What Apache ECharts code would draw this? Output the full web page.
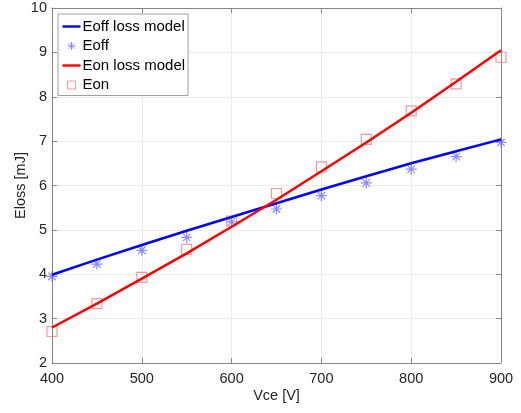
<!DOCTYPE html>
<html>
<head>
<meta charset="utf-8">
<script src="https://cdn.jsdelivr.net/npm/echarts@6/dist/echarts.min.js"></script>
<style>html,body{margin:0;padding:0;background:#fff}#c{width:521px;height:413px}</style>
</head>
<body>
<div id="c"></div>
<script>
const vce = [400, 450, 500, 550, 600, 650, 700, 750, 800, 850, 900];
const eoffModel = [3.99, 4.33, 4.66, 4.98, 5.29, 5.60, 5.91, 6.21, 6.50, 6.77, 7.04];
const eoffMeas = [3.95, 4.23, 4.54, 4.83, 5.18, 5.47, 5.77, 6.06, 6.37, 6.65, 6.97];
const eonModel = [2.80, 3.34, 3.90, 4.47, 5.07, 5.68, 6.32, 6.97, 7.64, 8.34, 9.05];
const eonMeas = [2.71, 3.34, 3.93, 4.56, 5.20, 5.82, 6.42, 7.04, 7.68, 8.29, 8.89];
const xTicks = [400, 500, 600, 700, 800, 900];
const yTicks = [2, 3, 4, 5, 6, 7, 8, 9, 10];
const legendNames = ['Eoff loss model', 'Eoff', 'Eon loss model', 'Eon'];

const pair = (xs, ys) => xs.map((x, i) => [x, ys[i]]);
const FONT = 'Liberation Sans';
const asterisk = 'path://M5,0 L5,10 M0,5 L10,5 M1.6,1.6 L8.4,8.4 M8.4,1.6 L1.6,8.4';
// legend icons with an 18x14 bounding frame
const lineIcon = 'path://M0,0 M18,14 M0,5.8 L18,5.8 L18,8.2 L0,8.2 Z';
const starIcon = 'path://M0,0 M18,14 M9,3 L9,11 M5,7 L13,7 M6.2,4.2 L11.8,9.8 M11.8,4.2 L6.2,9.8';
const rectIcon = 'path://M0,0 M18,14 M5,3 L13,3 L13,11 L5,11 Z';

const chart = echarts.init(document.getElementById('c'), null, {renderer: 'canvas'});
const axisLineColor = '#868686';
const baseX = {
  type: 'value', min: xTicks[0], max: xTicks[xTicks.length - 1], interval: 100,
  axisLine: {show: true, lineStyle: {color: axisLineColor, width: 1}},
  axisTick: {show: true, inside: true, length: 5, lineStyle: {color: axisLineColor}},
  splitLine: {show: false}
};
const baseY = {
  type: 'value', min: yTicks[0], max: yTicks[yTicks.length - 1], interval: 1,
  axisLine: {show: true, lineStyle: {color: axisLineColor, width: 1}},
  axisTick: {show: true, inside: true, length: 5, lineStyle: {color: axisLineColor}},
  splitLine: {show: false}
};

chart.setOption({
  animation: false,
  backgroundColor: '#ffffff',
  textStyle: {fontFamily: FONT},
  grid: {left: 52, right: 20, top: 8, bottom: 50, containLabel: false},
  xAxis: [
    Object.assign({}, baseX, {
      position: 'bottom',
      name: 'Vce [V]', nameLocation: 'middle', nameGap: 25, nameMoveOverlap: false,
      nameTextStyle: {fontFamily: FONT, fontSize: 14.5, color: '#262626'},
      axisLabel: {fontFamily: FONT, fontSize: 14.5, color: '#262626', margin: 8},
      splitLine: {show: true, lineStyle: {color: '#ebebeb', width: 1}}
    }),
    Object.assign({}, baseX, {position: 'top', axisLabel: {show: false}})
  ],
  yAxis: [
    Object.assign({}, baseY, {
      position: 'left',
      name: 'Eloss [mJ]', nameLocation: 'middle', nameGap: 24, nameMoveOverlap: false,
      nameTextStyle: {fontFamily: FONT, fontSize: 14.5, color: '#262626'},
      axisLabel: {fontFamily: FONT, fontSize: 14.5, color: '#262626', margin: 5},
      splitLine: {show: true, lineStyle: {color: '#ebebeb', width: 1}}
    }),
    Object.assign({}, baseY, {position: 'right', axisLabel: {show: false}})
  ],
  legend: {
    orient: 'vertical', left: 58, top: 14,
    padding: [5, 3, 3, 4], itemGap: 4.5, itemWidth: 18, itemHeight: 14,
    backgroundColor: '#ffffff', borderColor: '#a0a0a0', borderWidth: 1, borderRadius: 0,
    textStyle: {fontFamily: FONT, fontSize: 15, lineHeight: 14, color: '#000000', padding: [0, 0, 0, -3]},
    data: [
      {name: legendNames[0], icon: lineIcon, itemStyle: {color: '#0000ff', borderWidth: 0}},
      {name: legendNames[1], icon: starIcon, itemStyle: {color: 'transparent', borderColor: '#6f6fff', borderWidth: 1}},
      {name: legendNames[2], icon: lineIcon, itemStyle: {color: '#ff0000', borderWidth: 0}},
      {name: legendNames[3], icon: rectIcon, itemStyle: {color: 'transparent', borderColor: '#f58080', borderWidth: 1}}
    ]
  },
  series: [
    {
      name: legendNames[0], type: 'line', data: pair(vce, eoffModel),
      symbol: 'none', lineStyle: {color: '#0000ff', width: 2.5}, itemStyle: {color: '#0000ff'}, z: 3
    },
    {
      name: legendNames[1], type: 'scatter', data: pair(vce, eoffMeas),
      symbol: asterisk, symbolSize: 11,
      itemStyle: {color: 'transparent', borderColor: '#6f6fff', borderWidth: 1.2}, z: 2
    },
    {
      name: legendNames[2], type: 'line', data: pair(vce, eonModel),
      symbol: 'none', lineStyle: {color: '#ff0000', width: 2.5}, itemStyle: {color: '#ff0000'}, z: 3
    },
    {
      name: legendNames[3], type: 'scatter', data: pair(vce, eonMeas),
      symbol: 'rect', symbolSize: 10,
      itemStyle: {color: 'transparent', borderColor: '#f58080', borderWidth: 1.2}, z: 2
    }
  ]
});
</script>
</body>
</html>
